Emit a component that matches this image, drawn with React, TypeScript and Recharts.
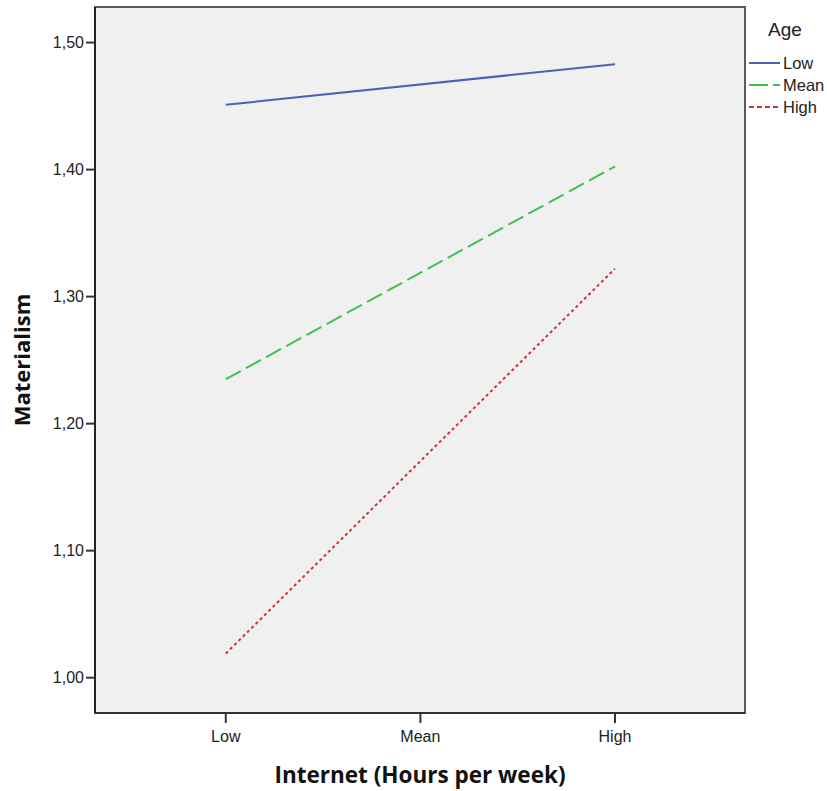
import React from 'react';
import {
  LineChart,
  Line,
  XAxis,
  YAxis,
  ReferenceArea,
  Label,
} from 'recharts';

/* ─── Data ────────────────────────────────────────────────────────────── */

const INTERNET_LEVELS = ['Low', 'Mean', 'High'];
const LINE_POS = [0, 2];
const AGE_LOW = [1.451, 1.483];
const AGE_MEAN = [1.235, 1.4025];
const AGE_HIGH = [1.019, 1.322];
const Y_TICKS = [1.0, 1.1, 1.2, 1.3, 1.4, 1.5];

const rows = LINE_POS.map((x, i) => ({
  x,
  low: AGE_LOW[i],
  mean: AGE_MEAN[i],
  high: AGE_HIGH[i],
}));

/* ─── Styles ──────────────────────────────────────────────────────────── */

const BLUE = '#4a61b8';
const GREEN = '#3ec24f';
const RED = '#c8333c';
const TICK_FONT = 'Liberation Sans, Arial, sans-serif';
const TITLE_FONT = 'Open Sans, Noto Sans, sans-serif';

const X_DOMAIN: [number, number] = [-0.672, 2.668];
const Y_DOMAIN: [number, number] = [0.9722, 1.528];

const SERIES = [
  { key: 'low', name: 'Low', color: BLUE, dash: undefined, legendDash: undefined },
  { key: 'mean', name: 'Mean', color: GREEN, dash: '17 6', legendDash: '19 5' },
  { key: 'high', name: 'High', color: RED, dash: '3 3', legendDash: '5 3' },
];

/* ─── Legend ──────────────────────────────────────────────────────────── */

function AgeLegend() {
  return (
    <div
      style={{
        position: 'absolute',
        left: 748,
        top: 18,
        fontFamily: TICK_FONT,
        color: '#222',
      }}
    >
      <div style={{ fontSize: 19, marginLeft: 20, height: 34, lineHeight: '24px' }}>
        Age
      </div>
      {SERIES.map((s) => (
        <div
          key={s.key}
          style={{ display: 'flex', alignItems: 'center', height: 22 }}
        >
          <svg width={33} height={6}>
            <line
              x1={1}
              y1={3}
              x2={32}
              y2={3}
              stroke={s.color}
              strokeWidth={2}
              strokeDasharray={s.legendDash}
            />
          </svg>
          <span style={{ fontSize: 16.5, marginLeft: 2 }}>{s.name}</span>
        </div>
      ))}
    </div>
  );
}

/* ─── Main export ─────────────────────────────────────────────────────── */

export default function App() {
  return (
    <div style={{ position: 'absolute', left: 0, top: 0, width: 827, height: 791 }}>
      <LineChart
        width={827}
        height={791}
        data={rows}
        margin={{ top: 7, right: 82, bottom: 0, left: 35 }}
      >
        <ReferenceArea
          x1={X_DOMAIN[0]}
          x2={X_DOMAIN[1]}
          y1={Y_DOMAIN[0]}
          y2={Y_DOMAIN[1]}
          fill="#f0f0f0"
          fillOpacity={1}
          stroke="#5a5a5a"
          strokeWidth={2}
          ifOverflow="visible"
        />
        <XAxis
          type="number"
          dataKey="x"
          domain={X_DOMAIN}
          ticks={[0, 1, 2]}
          tickFormatter={(v: number) => INTERNET_LEVELS[v]}
          allowDataOverflow
          axisLine={{ stroke: '#333', strokeWidth: 2 }}
          tickLine={{ stroke: '#333', strokeWidth: 2 }}
          tickSize={10}
          tick={{ fontSize: 16, fill: '#222', fontFamily: TICK_FONT, dy: 6 }}
          height={78}
        >
          <Label
            value="Internet (Hours per week)"
            position="insideBottom"
            offset={8}
            style={{
              fontSize: 22.5,
              fontWeight: 700,
              fill: '#111',
              fontFamily: TITLE_FONT,
            }}
          />
        </XAxis>
        <YAxis
          type="number"
          domain={Y_DOMAIN}
          ticks={Y_TICKS}
          tickFormatter={(v: number) => v.toFixed(2).replace('.', ',')}
          allowDataOverflow
          axisLine={{ stroke: '#222', strokeWidth: 2 }}
          tickLine={{ stroke: '#333', strokeWidth: 2 }}
          tickSize={9}
          tick={{ fontSize: 16, fill: '#222', fontFamily: TICK_FONT }}
          width={60}
        >
          <Label
            value="Materialism"
            angle={-90}
            position="insideLeft"
            offset={-13}
            style={{
              fontSize: 22,
              fontWeight: 700,
              fill: '#111',
              fontFamily: TITLE_FONT,
              textAnchor: 'middle',
            }}
          />
        </YAxis>
        {SERIES.map((s) => (
          <Line
            key={s.key}
            type="linear"
            dataKey={s.key}
            name={s.name}
            stroke={s.color}
            strokeWidth={2}
            strokeDasharray={s.dash}
            dot={false}
            activeDot={false}
            isAnimationActive={false}
          />
        ))}
      </LineChart>
      <AgeLegend />
    </div>
  );
}
